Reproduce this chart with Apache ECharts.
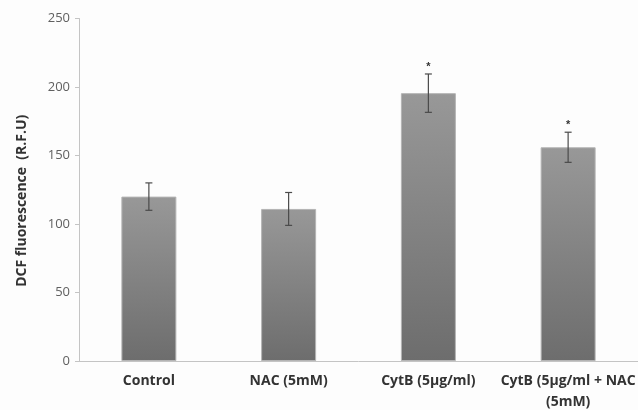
<!DOCTYPE html>
<html><head><meta charset="utf-8">
<script src="https://cdn.jsdelivr.net/npm/echarts@6/dist/echarts.min.js"></script>
<style>html,body{margin:0;padding:0;background:#fdfdfd;}#c{width:638px;height:410px;}</style>
</head><body><div id="c"></div>
<script>
const categories = ['Control', 'NAC (5mM)', 'CytB (5µg/ml)', 'CytB (5µg/ml + NAC\n(5mM)'];
const values = [120, 111, 195.5, 156];
const errors = [10, 12, 14, 11];
const marks = ['', '', '*', '*'];
const yTicks = {min: 0, max: 250, interval: 50};

const errData = values.map((v, i) => [i, v - errors[i], v + errors[i]]);
const starData = values.map((v, i) => [i, v + errors[i], marks[i]]).filter(d => d[2]);

const chart = echarts.init(document.getElementById('c'));
chart.setOption({
  backgroundColor: '#fdfdfd',
  animation: false,
  grid: {left: 79, right: 0, top: 18.5, bottom: 49, containLabel: false, outerBoundsMode: 'none'},
  xAxis: {
    type: 'category', data: categories,
    axisLine: {lineStyle: {color: '#c4c4c4', width: 1}},
    axisTick: {show: false},
    axisLabel: {color: '#333', fontSize: 14, fontWeight: 'bold', fontFamily: 'Open Sans', margin: 10, lineHeight: 21, interval: 0}
  },
  yAxis: {
    type: 'value', min: yTicks.min, max: yTicks.max, interval: yTicks.interval,
    name: 'DCF fluorescence  (R.F.U)', nameLocation: 'middle', nameRotate: 90, nameGap: 50,
    nameTextStyle: {color: '#333', fontSize: 14, fontWeight: 'bold', fontFamily: 'Open Sans', padding: [0, 22, 0, 0]},
    axisLine: {show: true, lineStyle: {color: '#c4c4c4', width: 1}},
    axisTick: {show: true, length: 4, lineStyle: {color: '#c4c4c4'}},
    splitLine: {show: false},
    axisLabel: {color: '#606060', fontSize: 13, fontFamily: 'Open Sans', margin: 9}
  },
  series: [
    {
      type: 'bar', data: values, barWidth: 55,
      itemStyle: {
        color: new echarts.graphic.LinearGradient(0, 0, 0, 1, [
          {offset: 0, color: '#989898'}, {offset: 1, color: '#6d6d6d'}
        ]),
        borderColor: '#b4b4b4', borderWidth: 1
      }
    },
    {
      type: 'custom', data: errData, z: 5,
      renderItem: function (params, api) {
        const x = api.value(0);
        const lo = api.coord([x, api.value(1)]);
        const hi = api.coord([x, api.value(2)]);
        const w = 3.5;
        const st = {stroke: '#4a4a4a', lineWidth: 1.2};
        return {type: 'group', children: [
          {type: 'line', shape: {x1: lo[0], y1: lo[1], x2: hi[0], y2: hi[1]}, style: st},
          {type: 'line', shape: {x1: lo[0] - w, y1: lo[1], x2: lo[0] + w, y2: lo[1]}, style: st},
          {type: 'line', shape: {x1: hi[0] - w, y1: hi[1], x2: hi[0] + w, y2: hi[1]}, style: st}
        ]};
      }
    },
    {
      type: 'custom', data: starData, z: 6,
      renderItem: function (params, api) {
        const p = api.coord([api.value(0), api.value(1)]);
        return {type: 'text', style: {x: p[0], y: p[1] - 7, text: starData[params.dataIndex][2], fill: '#333', fontSize: 11, fontWeight: 'bold', align: 'center', verticalAlign: 'middle'}};
      }
    }
  ]
});
</script></body></html>
